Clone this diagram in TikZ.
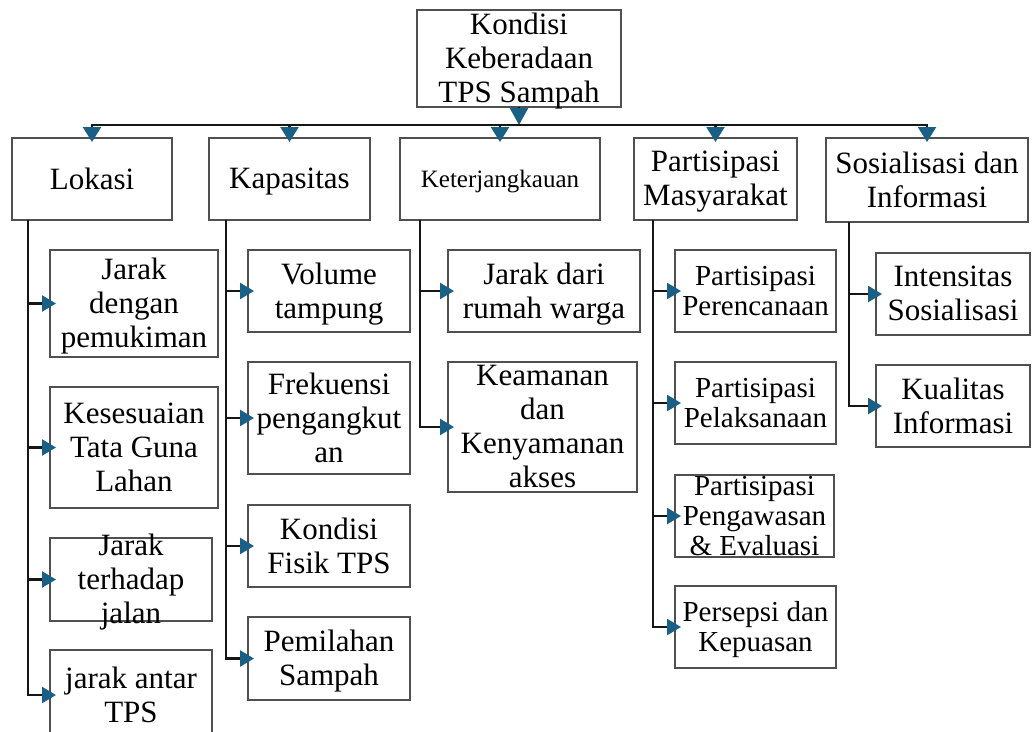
\documentclass[tikz,border=0pt]{standalone}
\usepackage{fontspec}
\setmainfont{Liberation Serif}
\usetikzlibrary{arrows.meta}
\definecolor{arrc}{RGB}{26,95,133}
\definecolor{linec}{RGB}{22,22,22}
\definecolor{boxc}{RGB}{80,80,80}
\tikzset{
  boxs/.style={draw=boxc, line width=2.4pt, fill=white, inner sep=0pt, outer sep=0pt},
  txt/.style={align=center, inner sep=0pt, text depth=7pt, yshift=-3pt, font=\fontsize{31}{34}\selectfont},
  smallt/.style={font=\fontsize{29}{30}\selectfont},
  tinyt/.style={font=\fontsize{25}{29}\selectfont},
  conn/.style={draw=linec, line width=2.4pt, -{Triangle[length=14pt,width=16pt,color=arrc,fill=arrc]}},
  kid/.style={conn, shorten >=-6pt},
  top/.style={conn, -{Triangle[length=15pt,width=18pt,color=arrc,fill=arrc]}, shorten >=-4pt},
}
\newcommand{\mybox}[7][]{%
  \node[boxs, minimum width={(#5-#3)*1pt}, minimum height={(#6-#4)*1pt}] (#2) at ({(#3+#5)/2},{(#4+#6)/2}) {};
  \node[txt,#1] (#2t) at (#2.center) {#7};}
\begin{document}
\begin{tikzpicture}[x=1pt,y=-1pt]
\useasboundingbox (0,0) rectangle (1032,731);
\clip (0,0) rectangle (1032,731);
% root and level 1
\mybox{root}{417}{10}{621}{107}{Kondisi\\Keberadaan\\TPS Sampah}
\mybox{lok}{12}{138}{172}{220}{Lokasi}
\mybox{kap}{209}{138}{370}{220}{Kapasitas}
\mybox[tinyt]{ket}{400}{138}{600}{220}{Keterjangkauan}
\mybox{par}{634}{138}{797}{220}{Partisipasi\\Masyarakat}
\mybox{sos}{826}{138}{1028}{222}{Sosialisasi dan\\Informasi}
% Lokasi children
\mybox{l1}{50}{250}{218}{357}{Jarak\\dengan\\pemukiman}
\mybox{l2}{50}{387}{218}{508}{Kesesuaian\\Tata Guna\\Lahan}
\mybox{l3}{50}{538}{212}{621}{Jarak\\terhadap\\jalan}
\mybox{l4}{50}{650}{212}{740}{jarak antar\\TPS}
% Kapasitas children
\mybox{k1}{248}{250}{410}{332}{Volume\\tampung}
\mybox{k2}{248}{362}{410}{474}{Frekuensi\\pengangkut\\an}
\mybox{k3}{248}{505}{410}{587}{Kondisi\\Fisik TPS}
\mybox{k4}{248}{617}{410}{700}{Pemilahan\\Sampah}
% Keterjangkauan children
\mybox{t1}{448}{250}{640}{332}{Jarak dari\\rumah warga}
\mybox{t2}{448}{362}{637}{492}{Keamanan\\dan\\Kenyamanan\\akses}
% Partisipasi children
\mybox[smallt]{p1}{675}{250}{836}{332}{Partisipasi\\Perencanaan}
\mybox[smallt]{p2}{675}{362}{836}{444}{Partisipasi\\Pelaksanaan}
\mybox[smallt]{p3}{675}{475}{834}{557}{Partisipasi\\Pengawasan\\\& Evaluasi}
\mybox[smallt]{p4}{675}{586}{836}{668}{Persepsi dan\\Kepuasan}
% Sosialisasi children
\mybox{s1}{876}{253}{1030}{335}{Intensitas\\Sosialisasi}
\mybox{s2}{876}{365}{1030}{447}{Kualitas\\Informasi}
% connectors
\coordinate (bus) at (root.south |- 0,125);
\draw[conn, -{Triangle[length=17pt,width=18pt,color=arrc,fill=arrc]}] (root.south) -- (bus);
\foreach \c in {lok,kap,ket,par,sos}{
  \draw[top] (bus) -| (\c.north);
}
\coordinate (lokS) at ([xshift=16pt]lok.south west);
\coordinate (kapS) at ([xshift=17pt]kap.south west);
\coordinate (ketS) at ([xshift=20pt]ket.south west);
\coordinate (parS) at ([xshift=19pt]par.south west);
\coordinate (sosS) at ([xshift=23pt]sos.south west);
\foreach \c in {l1,l2,l3,l4}{\draw[kid] (lokS) |- (\c.west);}
\foreach \c in {k1,k2,k3,k4}{\draw[kid] (kapS) |- (\c.west);}
\foreach \c in {t1,t2}{\draw[kid] (ketS) |- (\c.west);}
\foreach \c in {p1,p2,p3,p4}{\draw[kid] (parS) |- (\c.west);}
\foreach \c in {s1,s2}{\draw[kid] (sosS) |- (\c.west);}
\end{tikzpicture}
\end{document}
